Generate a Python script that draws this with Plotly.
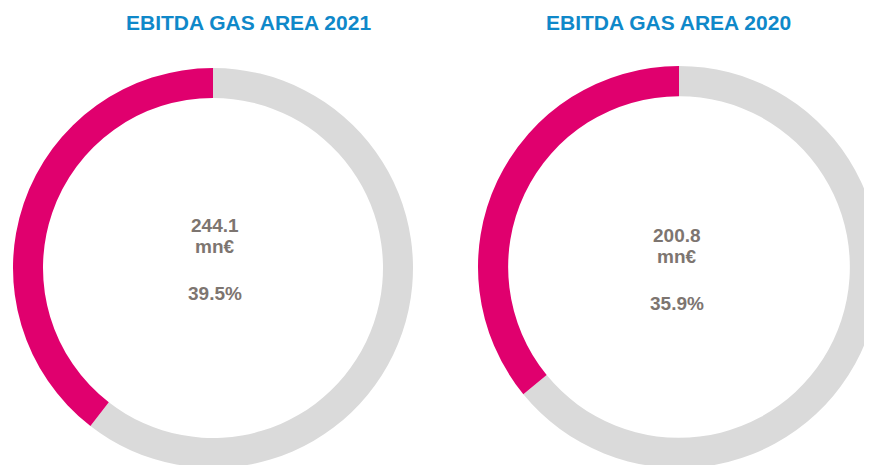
import plotly.graph_objects as go

# ---- data ----
titles = ["EBITDA GAS AREA 2021", "EBITDA GAS AREA 2020"]
ebitda_values = ["244.1", "200.8"]
gas_share = [39.5, 35.9]          # % share (pink)
rest_share = [100 - gas_share[0], 100 - gas_share[1]]  # remainder (grey)
slice_labels = ["Other", "Gas area"]
share_labels = ["39.5%", "35.9%"]

W, H = 872, 465
OFF = 8  # page body margin offset
PINK = "#E0006E"
GREY = "#DADADA"
BLUE = "#0F88C9"
TXT = "#7D7570"

def px_x(x):
    return (x - OFF) / W

def px_y(y):
    return 1 - (y - OFF) / H

fig = go.Figure()

domains = [
    dict(x=[px_x(13), px_x(413)], y=[px_y(468), px_y(68)]),
    dict(x=[px_x(478), px_x(880)], y=[px_y(468), px_y(66)]),
]

for i in range(2):
    fig.add_trace(go.Pie(
        labels=slice_labels,
        values=[rest_share[i], gas_share[i]],
        hole=0.85,
        sort=False,
        direction="clockwise",
        rotation=0,
        marker=dict(colors=[GREY, PINK], line=dict(width=0)),
        textinfo="none",
        hoverinfo="label+percent",
        domain=domains[i],
        showlegend=False,
    ))

title_x = [248, 668]
text_x = [215, 677]
text_y0 = [225, 235]

annotations = []
for i in range(2):
    annotations.append(dict(
        text="<b>%s</b>" % titles[i], x=px_x(title_x[i]), y=px_y(22),
        xref="paper", yref="paper", xanchor="center", yanchor="middle",
        showarrow=False, font=dict(family="Liberation Sans, Arial", size=21, color=BLUE)))
    annotations.append(dict(
        text="<b>%s</b>" % ebitda_values[i], x=px_x(text_x[i]), y=px_y(text_y0[i]),
        xref="paper", yref="paper", xanchor="center", yanchor="middle",
        showarrow=False, font=dict(family="Liberation Sans, Arial", size=19, color=TXT)))
    annotations.append(dict(
        text="<b>mn€</b>", x=px_x(text_x[i]), y=px_y(text_y0[i] + 21),
        xref="paper", yref="paper", xanchor="center", yanchor="middle",
        showarrow=False, font=dict(family="Liberation Sans, Arial", size=19, color=TXT)))
    annotations.append(dict(
        text="<b>%s</b>" % share_labels[i], x=px_x(text_x[i]), y=px_y(text_y0[i] + 68),
        xref="paper", yref="paper", xanchor="center", yanchor="middle",
        showarrow=False, font=dict(family="Liberation Sans, Arial", size=19, color=TXT)))

fig.update_layout(
    width=W, height=H,
    margin=dict(l=0, r=0, t=0, b=0),
    paper_bgcolor="white",
    plot_bgcolor="white",
    annotations=annotations,
)

fig.write_html("out.html")
